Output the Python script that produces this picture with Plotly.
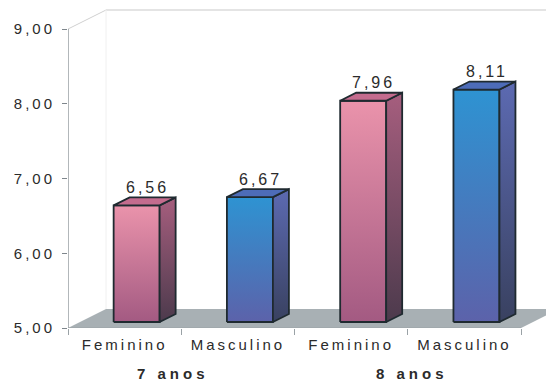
import plotly.graph_objects as go

# ---- data ----
categories = ["Feminino", "Masculino", "Feminino", "Masculino"]
groups = ["7 anos", "8 anos"]
values = [6.56, 6.67, 7.96, 8.11]
y_ticks = [5, 6, 7, 8, 9]
y_tick_labels = ["5,00", "6,00", "7,00", "8,00", "9,00"]
value_labels = ["6,56", "6,67", "7,96", "8,11"]

# ---- layout geometry (pixels) ----
W, H = 546, 381
ML, MR, MT, MB = 68, 0, 0, 53
X_RANGE = [-0.5, 3.72]
PXX = (W - ML - MR) / (X_RANGE[1] - X_RANGE[0])   # px per x unit
PXY = 74.75                                        # px per y unit
Y_RANGE = [5, 5 + (H - MT - MB) / PXY]
BASE = 5

def P(x, y, k):
    """oblique projection: k = depth in px (2:1 slope)"""
    return x + 2 * k / PXX, y + k / PXY

def ls(t, sp=3):
    return f'<span style="letter-spacing:{sp}px">{t}</span>'

PINK = dict(front=[[0, "#A35A82"], [1, "#EA93AB"]],
            side=[[0, "#4C3A4C"], [1, "#A65E7E"]],
            top="#C46C8E")
BLUE = dict(front=[[0, "#5C62AA"], [1, "#2E93D2"]],
            side=[[0, "#394160"], [1, "#5C6AB2"]],
            top="#4D6CB8")
EDGE = "#1F2A30"
FONT = "Liberation Sans, Arial"

fig = go.Figure()

HW = 23 / PXX
K0, K1 = 6, 14
for i, v in enumerate(values):
    pal = PINK if i % 2 == 0 else BLUE
    xl, xr = i - HW, i + HW
    faces = [
        ([P(xl, BASE, K0), P(xr, BASE, K0), P(xr, v, K0), P(xl, v, K0)], pal["front"]),
        ([P(xr, BASE, K0), P(xr, BASE, K1), P(xr, v, K1), P(xr, v, K0)], pal["side"]),
        ([P(xl, v, K0), P(xr, v, K0), P(xr, v, K1), P(xl, v, K1)], pal["top"]),
    ]
    for pts, col in faces:
        xs = [p[0] for p in pts] + [pts[0][0]]
        ys = [p[1] for p in pts] + [pts[0][1]]
        kw = dict(x=xs, y=ys, mode="lines", fill="toself",
                  line=dict(color=EDGE, width=1.8),
                  hoverinfo="skip", showlegend=False)
        if isinstance(col, list):
            kw["fillgradient"] = dict(type="vertical", colorscale=col)
        else:
            kw["fillcolor"] = col
        fig.add_trace(go.Scatter(**kw))
    fig.add_annotation(x=i + 22.5 / PXX, y=v, yshift=24, text=ls(value_labels[i]),
                       showarrow=False, yanchor="middle", xanchor="center",
                       font=dict(family=FONT, size=16, color="#2b2b2b"))

# ---- walls / floor ----
KF = 19
fl = [P(-0.5, BASE, 0), P(-0.5, BASE, KF), P(3.5, BASE, KF), P(3.5, BASE, 0)]
path = "M " + " L ".join(f"{x},{y}" for x, y in fl) + " Z"
shapes = [
    dict(type="path", path=path, xref="x", yref="y", fillcolor="#A8B0B4",
         line=dict(width=0), layer="below"),
]
bx, by = P(-0.5, 9, KF)
bx0, by0 = P(-0.5, BASE, KF)
shapes += [
    dict(type="line", xref="x", yref="y", x0=-0.5, y0=9, x1=bx, y1=by,
         line=dict(color="#D0D0D0", width=1), layer="below"),
    dict(type="line", xref="x", yref="y", x0=bx, y0=by, x1=X_RANGE[1], y1=by,
         line=dict(color="#E4E4E4", width=2), layer="below"),
    dict(type="line", xref="x", yref="y", x0=bx, y0=by, x1=bx0, y1=by0,
         line=dict(color="#F0F0F0", width=1), layer="below"),
    dict(type="line", xref="x", yref="y", x0=-0.5, y0=BASE, x1=-0.5, y1=9,
         line=dict(color="#7E868C", width=1.2)),
    dict(type="line", xref="x", yref="y", x0=-0.5, y0=BASE, x1=3.5, y1=BASE,
         line=dict(color="#9AA2A6", width=1.2)),
]
fig.update_layout(shapes=shapes)

for g, gx in zip(groups, [0.43, 2.54]):
    fig.add_annotation(x=gx, y=BASE, yshift=-45, text="<b>" + ls(g, 4) + "</b>",
                       showarrow=False, yanchor="middle", xanchor="center",
                       font=dict(family=FONT, size=15, color="#2b2b2b"))

fig.update_layout(
    width=W, height=H,
    margin=dict(l=ML, r=MR, t=MT, b=MB),
    paper_bgcolor="white", plot_bgcolor="white",
    font=dict(family=FONT, size=15, color="#2b2b2b"),
    xaxis=dict(range=X_RANGE, showgrid=False, zeroline=False, showline=False,
               tickvals=list(range(len(categories))),
               ticktext=[ls(c) for c in categories],
               ticks="", ticklabelstandoff=6,
               minor=dict(tick0=-0.5, dtick=1, ticks="outside", ticklen=6,
                          tickcolor="#9AA2A6", showgrid=False)),
    yaxis=dict(range=Y_RANGE, showgrid=False, zeroline=False, showline=False,
               tickvals=y_ticks, ticktext=[ls(t) for t in y_tick_labels],
               ticks="outside", ticklen=5, tickcolor="#7E868C",
               ticklabelstandoff=4),
)

fig.write_html("out.html")
